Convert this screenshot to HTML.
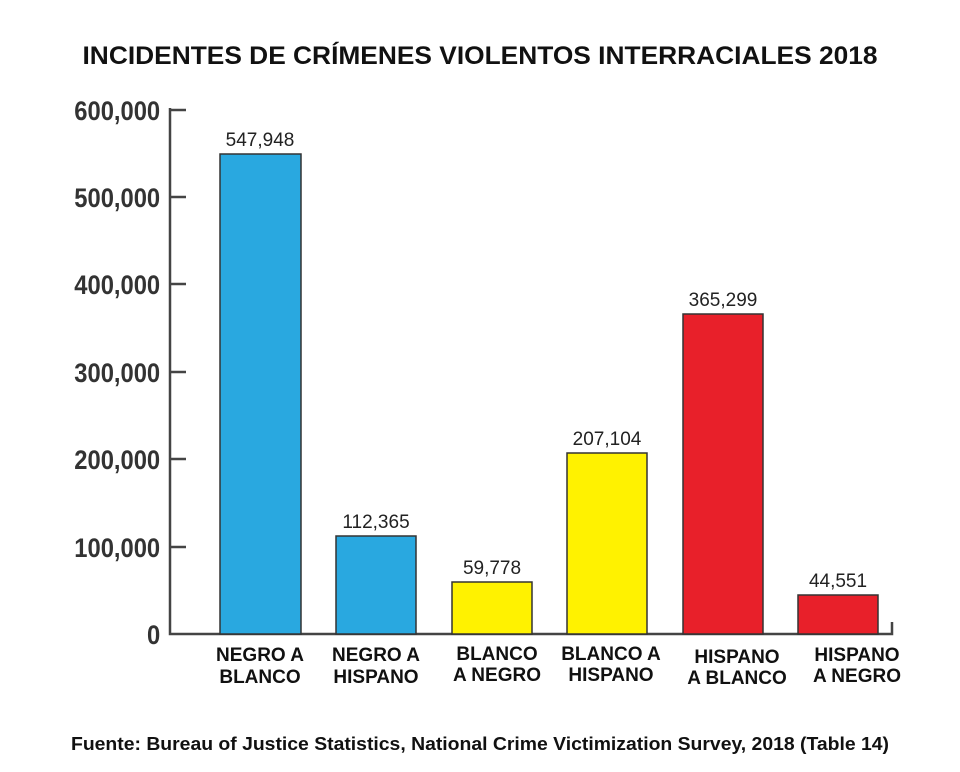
<!DOCTYPE html>
<html><head><meta charset="utf-8"><style>
body{margin:0;background:#fff;width:960px;height:767px;overflow:hidden}
svg text{font-family:"Liberation Sans",sans-serif}
</style></head><body>
<svg width="960" height="767" viewBox="0 0 960 767">
<text x="480" y="64" text-anchor="middle" font-size="25" font-weight="bold" fill="#111" textLength="795" lengthAdjust="spacingAndGlyphs">INCIDENTES DE CRÍMENES VIOLENTOS INTERRACIALES 2018</text>
<g stroke="#444" stroke-width="2.5" fill="none">
<path d="M170 108 V634 H892 V622"/>
<path d="M170 110 H186 M170 197 H186 M170 284 H186 M170 372 H186 M170 459 H186 M170 547 H186"/>
</g>
<g font-size="27" font-weight="bold" fill="#333" text-anchor="end" transform="scale(0.88,1)">
<text x="182" y="120">600,000</text>
<text x="182" y="207">500,000</text>
<text x="182" y="294">400,000</text>
<text x="182" y="382">300,000</text>
<text x="182" y="469">200,000</text>
<text x="182" y="557">100,000</text>
<text x="182" y="644">0</text>
</g>
<g stroke="#333" stroke-width="1.5">
<rect x="220" y="154" width="81" height="480" fill="#29a8e0"/>
<rect x="336" y="536" width="80" height="98" fill="#29a8e0"/>
<rect x="452" y="582" width="80" height="52" fill="#fff200"/>
<rect x="567" y="453" width="80" height="181" fill="#fff200"/>
<rect x="683" y="314" width="80" height="320" fill="#e8202a"/>
<rect x="798" y="595" width="80" height="39" fill="#e8202a"/>
</g>
<g font-size="19" fill="#222" text-anchor="middle">
<text x="260" y="146">547,948</text>
<text x="376" y="528">112,365</text>
<text x="492" y="574">59,778</text>
<text x="607" y="445">207,104</text>
<text x="723" y="306">365,299</text>
<text x="838" y="587">44,551</text>
</g>
<g font-size="19" font-weight="bold" fill="#111" text-anchor="middle">
<text x="260" y="661">NEGRO A</text><text x="260" y="683">BLANCO</text>
<text x="376" y="661">NEGRO A</text><text x="376" y="683">HISPANO</text>
<text x="497" y="660">BLANCO</text><text x="497" y="681">A NEGRO</text>
<text x="611" y="660">BLANCO A</text><text x="611" y="681">HISPANO</text>
<text x="737" y="663">HISPANO</text><text x="737" y="684">A BLANCO</text>
<text x="857" y="661">HISPANO</text><text x="857" y="682">A NEGRO</text>
</g>
<text x="480" y="750" text-anchor="middle" font-size="18" font-weight="bold" fill="#111" textLength="818" lengthAdjust="spacingAndGlyphs">Fuente: Bureau of Justice Statistics, National Crime Victimization Survey, 2018 (Table 14)</text>
</svg>
</body></html>
